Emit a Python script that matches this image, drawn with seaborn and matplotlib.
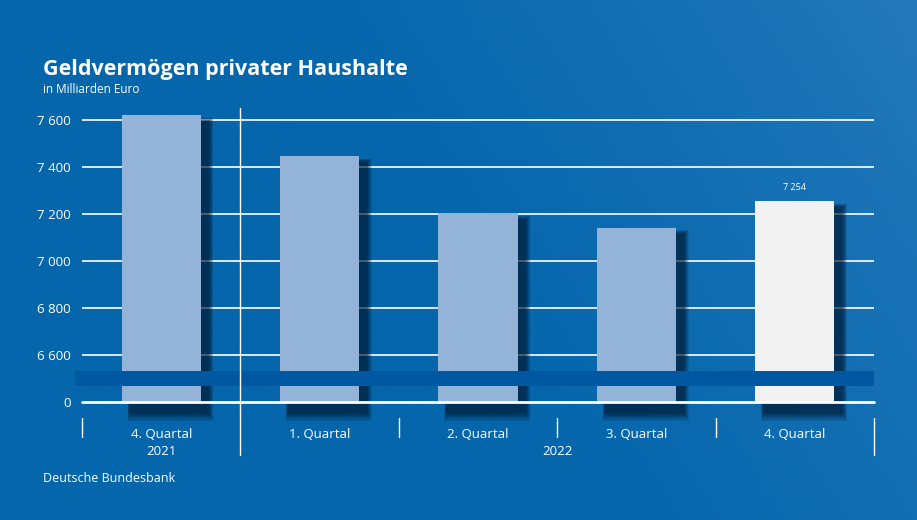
import numpy as np
import pandas as pd
import matplotlib
matplotlib.use("Agg")
import matplotlib.pyplot as plt
import seaborn as sns
from matplotlib.patches import Rectangle

quarters = ["4. Quartal", "1. Quartal", "2. Quartal", "3. Quartal", "4. Quartal"]
keys = ["Q4 2021", "Q1 2022", "Q2 2022", "Q3 2022", "Q4 2022"]
values = [7621, 7447, 7203, 7142, 7254]
colors = ["#94b3d9", "#94b3d9", "#94b3d9", "#94b3d9", "#f2f2f2"]
yticks = [6400, 6600, 6800, 7000, 7200, 7400, 7600]
ytick_labels = ["0", "6 600", "6 800", "7 000", "7 200", "7 400", "7 600"]
years = [("2021", 0), ("2022", 2.5)]

sns.set_theme(style="white")
plt.rcParams['font.family'] = ['Open Sans', 'DejaVu Sans']

fig = plt.figure(figsize=(9.17, 5.2), dpi=100)
bg = fig.add_axes([0, 0, 1, 1])
xx, yy = np.meshgrid(np.linspace(0, 1, 300), np.linspace(0, 1, 200))
grad = np.clip(0.7 * xx + 0.25 * yy - 0.45, 0, 1) ** 1.2
c0 = np.array([0x05, 0x66, 0xac]) / 255
c1 = np.array([0x4a, 0x90, 0xcc]) / 255
img = c0[None, None, :] * (1 - grad[..., None]) + c1[None, None, :] * grad[..., None]
bg.imshow(img, aspect="auto", extent=[0, 1, 0, 1], origin="lower")
bg.axis("off")

ax = fig.add_axes([82/917, 1-402/520, 792/917, 294/520])
ax.patch.set_alpha(0)
ylo, yhi = 6400, 7651
ax.set_xlim(-0.5, 4.5)
ax.set_ylim(ylo, yhi)

# soft shadows, offset right and down
for i, v in enumerate(values):
    for k in range(8):
        g = k * 0.006
        gy = k * 5
        bottom = ylo - 45 - gy
        top = v - 25 + gy * 0.4
        ax.add_patch(Rectangle((i - 0.25 + 0.05 - g * 0.3, bottom), 0.5 + g, top - bottom,
                               color="#00152b", alpha=0.12, lw=0, clip_on=False, zorder=1))

for t in yticks[1:]:
    ax.axhline(t, color="white", lw=1.2, zorder=0.5)

df = pd.DataFrame({"q": keys, "v": values})
sns.barplot(data=df, x="q", y="v", hue="q", palette=colors, width=0.5, ax=ax,
            legend=False, saturation=1, zorder=3, linewidth=0, edgecolor="none")

ax.axhline(ylo, color="white", lw=2, zorder=4, clip_on=False)
band_lo = ylo + (402-386)/47*200
band_hi = ylo + (402-371)/47*200
ax.add_patch(Rectangle((-0.545, band_lo), 5.045, band_hi - band_lo, color="#0058a3", lw=0, zorder=5, clip_on=False))

ax.text(4, values[4] + 40, f"{values[4]:,}".replace(",", " "), ha="center", va="bottom", color="white", fontsize=6.5)

ax.set_yticks(yticks)
ax.set_yticklabels(ytick_labels)
ax.set_xticks([])
ax.set_xlabel(""); ax.set_ylabel("")
ax.tick_params(axis="y", length=0, colors="white", labelsize=9.5, pad=8)
for s in ax.spines.values():
    s.set_visible(False)

trans = ax.get_xaxis_transform()
ax.plot([0.5, 0.5], [-0.18, 1.0], color="white", lw=1, transform=trans, clip_on=False, zorder=6)
for xb in [-0.5, 1.5, 2.5, 3.5, 4.5]:
    low = -0.18 if xb == 4.5 else -0.12
    ax.plot([xb, xb], [low, -0.055], color="white", lw=1, transform=trans, clip_on=False)
for i, q in enumerate(quarters):
    ax.text(i, -0.11, q, ha="center", va="center", color="white", fontsize=9.5, transform=trans)
for y, xpos in years:
    ax.text(xpos, -0.17, y, ha="center", va="center", color="white", fontsize=9.5, transform=trans)

fig.text(43/917, 1-70/520, "Geldvermögen privater Haushalte", color="white", fontsize=15.5,
         fontweight="bold", va="center")
fig.text(43/917, 1-89/520, "in Milliarden Euro", color="white", fontsize=8.5, va="center")
fig.text(43/917, 1-479/520, "Deutsche Bundesbank", color="white", fontsize=9, va="center")

fig.savefig("out.png", dpi=100)
